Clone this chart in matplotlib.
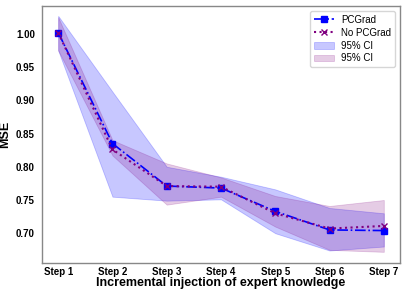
import matplotlib
matplotlib.use("Agg")
import matplotlib.pyplot as plt
import numpy as np

steps = ["Step 1", "Step 2", "Step 3", "Step 4", "Step 5", "Step 6", "Step 7"]
pcgrad_mean = [1.002, 0.835, 0.771, 0.768, 0.733, 0.705, 0.704]
nopcgrad_mean = [1.002, 0.826, 0.771, 0.770, 0.730, 0.707, 0.711]
pcgrad_lo = [0.975, 0.755, 0.749, 0.751, 0.700, 0.674, 0.680]
pcgrad_hi = [1.027, 0.913, 0.800, 0.785, 0.766, 0.738, 0.730]
nopcgrad_lo = [0.975, 0.817, 0.743, 0.755, 0.710, 0.675, 0.672]
nopcgrad_hi = [1.025, 0.840, 0.805, 0.784, 0.756, 0.741, 0.750]

plt.rcParams['font.family'] = ['Liberation Sans', 'DejaVu Sans']

fig = plt.figure(figsize=(4.07, 2.96), dpi=100)
ax = fig.add_axes([0.103, 0.111, 0.88, 0.869])
x = np.arange(len(steps))

ax.plot(x, pcgrad_mean, color='#0000ff', linestyle='-.', marker='s', markersize=4.5,
        linewidth=1.2, label='PCGrad')
ax.plot(x, nopcgrad_mean, color='#800080', linestyle=':', marker='x', markersize=4.5,
        linewidth=1.5, label='No PCGrad')
ax.fill_between(x, pcgrad_lo, pcgrad_hi, color='#0000ff', alpha=0.22, linewidth=0.6,
                label='95% CI')
ax.fill_between(x, nopcgrad_lo, nopcgrad_hi, color='#800080', alpha=0.2, linewidth=0.6,
                label='95% CI')

ax.set_xlim(-0.3, 6.3)
ax.set_ylim(0.655, 1.042)
ax.set_xticks(x)
ax.set_xticklabels(steps)
ax.set_yticks([0.70, 0.75, 0.80, 0.85, 0.90, 0.95, 1.00])
ax.set_yticklabels(['0.70', '0.75', '0.80', '0.85', '0.90', '0.95', '1.00'])
ax.tick_params(axis='y', length=0, labelsize=7, pad=5)
ax.tick_params(axis='x', length=0, labelsize=7, pad=3)
for lab in ax.get_xticklabels() + ax.get_yticklabels():
    lab.set_fontweight('bold')
ax.set_xlabel('Incremental injection of expert knowledge', fontsize=9, fontweight='bold', labelpad=0)
ax.set_ylabel('MSE', fontsize=9, fontweight='bold')
ax.yaxis.set_label_coords(-0.085, 0.5)
for s in ax.spines.values():
    s.set_color('#888888')
    s.set_linewidth(1.0)

leg = ax.legend(loc='upper right', fontsize=7, frameon=True, handlelength=2.0,
                borderpad=0.4, labelspacing=0.3, fancybox=True)
leg.get_frame().set_edgecolor('#cccccc')

fig.savefig('out.png', dpi=100)
